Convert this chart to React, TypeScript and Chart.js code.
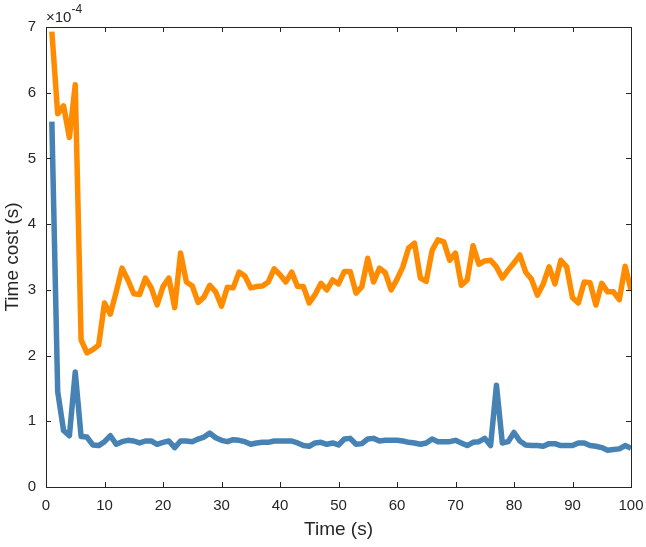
import React, { useEffect, useRef } from "react";
import { Chart, registerables } from "chart.js";

Chart.register(...registerables);

// Time steps (s)
const timeSteps: number[] = Array.from({ length: 100 }, (_, i) => i + 1);

// Time cost values, in units of 1e-4 s
const orangeCost: number[] = [
  6.93, 5.68, 5.80, 5.32, 6.12, 2.24, 2.04, 2.09, 2.16, 2.80,
  2.63, 2.97, 3.33, 3.15, 2.94, 2.93, 3.18, 3.03, 2.77, 3.05,
  3.18, 2.73, 3.56, 3.12, 3.06, 2.81, 2.89, 3.07, 2.97, 2.75,
  3.04, 3.03, 3.27, 3.21, 3.03, 3.05, 3.06, 3.12, 3.32, 3.23,
  3.12, 3.27, 3.05, 3.05, 2.80, 2.93, 3.10, 3.00, 3.15, 3.09,
  3.28, 3.28, 2.95, 3.05, 3.48, 3.12, 3.33, 3.26, 3.00, 3.16,
  3.35, 3.64, 3.71, 3.18, 3.13, 3.60, 3.76, 3.73, 3.45, 3.56,
  3.07, 3.15, 3.67, 3.39, 3.44, 3.45, 3.35, 3.18, 3.30, 3.41,
  3.53, 3.27, 3.16, 2.92, 3.09, 3.35, 3.09, 3.45, 3.35, 2.88,
  2.80, 3.12, 3.11, 2.77, 3.10, 2.97, 2.97, 2.85, 3.36, 3.00,
];

const blueCost: number[] = [
  5.56, 1.45, 0.86, 0.78, 1.75, 0.77, 0.76, 0.64, 0.63, 0.69,
  0.78, 0.65, 0.69, 0.71, 0.70, 0.67, 0.70, 0.70, 0.65, 0.68,
  0.70, 0.60, 0.70, 0.70, 0.69, 0.73, 0.76, 0.82, 0.75, 0.71,
  0.69, 0.72, 0.71, 0.69, 0.65, 0.67, 0.68, 0.68, 0.70, 0.70,
  0.70, 0.70, 0.67, 0.63, 0.62, 0.67, 0.68, 0.65, 0.67, 0.64,
  0.73, 0.74, 0.65, 0.66, 0.73, 0.74, 0.70, 0.71, 0.71, 0.71,
  0.70, 0.68, 0.67, 0.65, 0.67, 0.73, 0.69, 0.69, 0.69, 0.71,
  0.67, 0.63, 0.68, 0.69, 0.74, 0.63, 1.55, 0.67, 0.69, 0.83,
  0.70, 0.64, 0.63, 0.63, 0.62, 0.66, 0.66, 0.63, 0.63, 0.63,
  0.67, 0.67, 0.63, 0.62, 0.60, 0.56, 0.57, 0.58, 0.63, 0.59,
];

const xTickValues: number[] = [0, 10, 20, 30, 40, 50, 60, 70, 80, 90, 100];
const yTickValues: number[] = [0, 1, 2, 3, 4, 5, 6, 7];

const AXIS_COLOR = "#262626";
const FONT = "'Liberation Sans', Arial, Helvetica, sans-serif";

const boxPlugin = {
  id: "matlabBox",
  afterDatasetsDraw(chart: any) {
    const { ctx, chartArea, scales } = chart;
    const { left, right, top, bottom } = chartArea;
    const xs = scales.x;
    const ys = scales.y;
    const tl = 5;
    ctx.save();
    ctx.strokeStyle = AXIS_COLOR;
    ctx.lineWidth = 1;
    ctx.beginPath();
    xs.ticks.forEach((t: any) => {
      const px = Math.round(xs.getPixelForValue(t.value)) + 0.5;
      ctx.moveTo(px, bottom);
      ctx.lineTo(px, bottom - tl);
      ctx.moveTo(px, top);
      ctx.lineTo(px, top + tl);
    });
    ys.ticks.forEach((t: any) => {
      const py = Math.round(ys.getPixelForValue(t.value)) + 0.5;
      ctx.moveTo(left, py);
      ctx.lineTo(left + tl, py);
      ctx.moveTo(right, py);
      ctx.lineTo(right - tl, py);
    });
    ctx.stroke();
    ctx.strokeRect(left + 0.5, top + 0.5, right - left, bottom - top);
    ctx.restore();
  },
};

export default function App() {
  const canvasRef = useRef<HTMLCanvasElement | null>(null);

  useEffect(() => {
    const canvas = canvasRef.current;
    if (!canvas) return;
    Chart.defaults.font.family = FONT;
    Chart.defaults.color = AXIS_COLOR;

    const chart = new Chart(canvas, {
      type: "line",
      data: {
        datasets: [
          {
            label: "blue",
            data: timeSteps.map((t, i) => ({ x: t, y: blueCost[i] })),
            borderColor: "#4682B4",
            backgroundColor: "#4682B4",
            borderWidth: 5.5,
            pointRadius: 0,
            borderJoinStyle: "round",
            borderCapStyle: "butt",
            tension: 0,
          },
          {
            label: "orange",
            data: timeSteps.map((t, i) => ({ x: t, y: orangeCost[i] })),
            borderColor: "#FF8C00",
            backgroundColor: "#FF8C00",
            borderWidth: 5.5,
            pointRadius: 0,
            borderJoinStyle: "round",
            borderCapStyle: "butt",
            tension: 0,
          },
        ],
      },
      options: {
        responsive: false,
        animation: false,
        devicePixelRatio: 1,
        layout: { padding: { top: 27, right: 15, left: 0, bottom: 0 } },
        plugins: {
          legend: { display: false },
          tooltip: { enabled: false },
        },
        scales: {
          x: {
            type: "linear",
            min: 0,
            max: 100,
            afterBuildTicks: (s: any) => {
              s.ticks = xTickValues.map((v) => ({ value: v }));
            },
            afterFit: (s: any) => {
              s.height = 60;
              s.paddingLeft = 0;
              s.paddingRight = 0;
            },
            ticks: {
              font: { size: 15 },
              color: AXIS_COLOR,
              padding: 10,
              maxRotation: 0,
              autoSkip: false,
            },
            grid: { display: false, drawTicks: false },
            border: { display: false },
            title: {
              display: true,
              text: "Time (s)",
              font: { size: 19 },
              color: AXIS_COLOR,
              padding: { top: 0, bottom: 6 },
            },
          },
          y: {
            type: "linear",
            min: 0,
            max: 7,
            afterBuildTicks: (s: any) => {
              s.ticks = yTickValues.map((v) => ({ value: v }));
            },
            afterFit: (s: any) => {
              s.width = 46;
              s.paddingTop = 0;
              s.paddingBottom = 0;
            },
            ticks: {
              font: { size: 15 },
              color: AXIS_COLOR,
              padding: 10,
              autoSkip: false,
            },
            grid: { display: false, drawTicks: false },
            border: { display: false },
            title: {
              display: true,
              text: "Time cost (s)",
              font: { size: 19 },
              color: AXIS_COLOR,
              padding: { top: 1, bottom: 0 },
            },
          },
        },
      },
      plugins: [boxPlugin],
    });

    return () => chart.destroy();
  }, []);

  return (
    <div
      style={{
        position: "absolute",
        left: 0,
        top: 0,
        width: 646,
        height: 547,
        background: "#ffffff",
      }}
    >
      <canvas ref={canvasRef} width={646} height={547} style={{ display: "block" }} />
      <div
        style={{
          position: "absolute",
          left: 46,
          top: 9,
          fontFamily: FONT,
          fontSize: 15,
          lineHeight: "16px",
          color: AXIS_COLOR,
          whiteSpace: "nowrap",
        }}
      >
        ×10
        <span style={{ fontSize: 12, position: "relative", top: -9 }}>-4</span>
      </div>
    </div>
  );
}
